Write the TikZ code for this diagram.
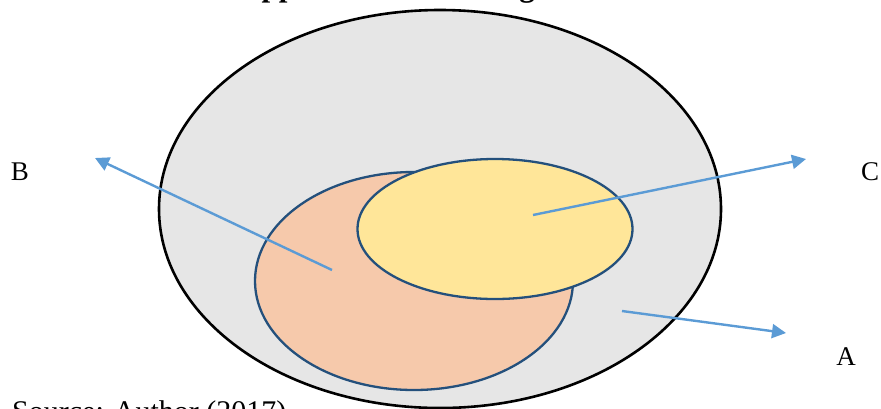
\documentclass[tikz,border=0pt]{standalone}
\usepackage{fontspec}
\setmainfont{Liberation Serif}
\usetikzlibrary{arrows.meta,shapes.geometric}
\definecolor{outerfill}{HTML}{E6E6E6}
\definecolor{orangefill}{HTML}{F6C9AB}
\definecolor{yellowfill}{HTML}{FFE699}
\definecolor{ringblue}{HTML}{24507C}
\definecolor{arrowblue}{HTML}{5B9BD5}
\tikzset{
  setellipse/.style={ellipse, inner sep=0pt, line width=2.3pt},
  pointer/.style={draw=arrowblue, line width=2.4pt, -{Triangle[length=14pt,width=14pt]}},
  letter/.style={inner sep=0pt, font=\fontsize{27}{32}\selectfont},
}
\begin{document}
\begin{tikzpicture}[x=1pt,y=-1pt]
\useasboundingbox (0,0) rectangle (881,408);
\clip (0,0) rectangle (881,408);
% title (cut off by the page edge)
\node[anchor=base west, inner sep=0pt, font=\bfseries\fontsize{31}{36}\selectfont] (title) at (239,-3.5) {Approach to Learning};
% sets
\node[setellipse, draw=black, line width=2.6pt, fill=outerfill, minimum width=562pt, minimum height=398pt] (outer) at (440,209) {};
\node[setellipse, draw=ringblue, fill=orangefill, minimum width=318pt, minimum height=218pt] (orange) at (414,281) {};
\node[setellipse, draw=ringblue, fill=yellowfill, minimum width=275pt, minimum height=140pt] (yellow) at (495,229) {};
% labels
\node[letter] (B) at (20,172) {B};
\node[letter] (C) at (870,172) {C};
\node[letter] (A) at (846,357) {A};
% arrow ends
\coordinate (bs) at (332,270);
\coordinate (be) at (95,158);
\coordinate (cs) at (533,215);
\coordinate (ce) at (806,159);
\coordinate (as) at (622,311);
\coordinate (ae) at (786,333);
\draw[pointer] (bs) -- (be);
\draw[pointer] (cs) -- (ce);
\draw[pointer] (as) -- (ae);
% source (cut off by the page edge)
\node[anchor=base west, inner sep=0pt, font=\fontsize{30}{36}\selectfont] (source) at (12,421) {Source: Author (2017)};
\end{tikzpicture}
\end{document}
